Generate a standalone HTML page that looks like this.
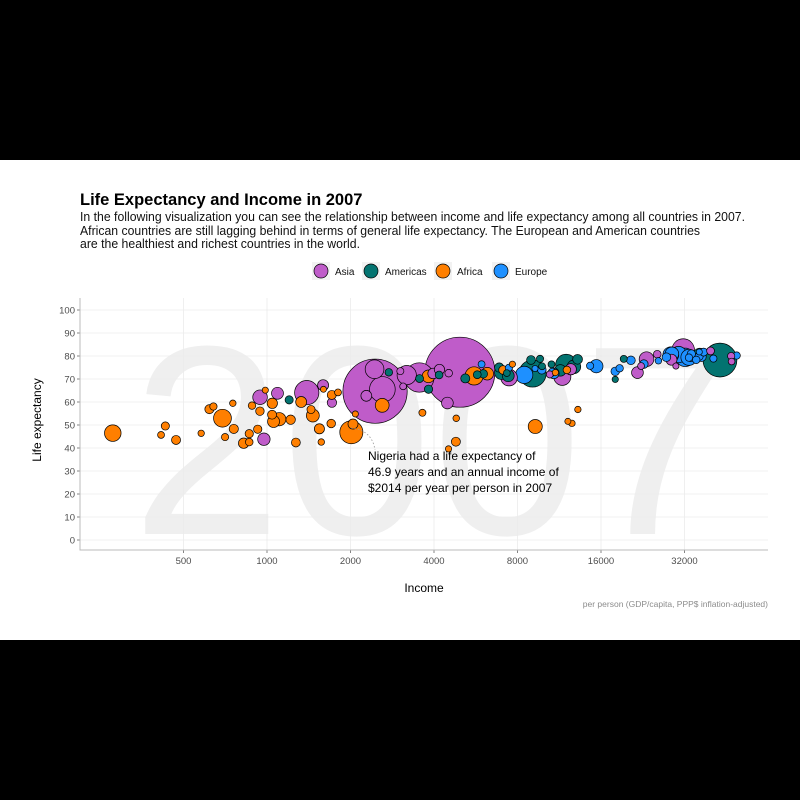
<!DOCTYPE html>
<html><head><meta charset="utf-8"><style>
html,body{margin:0;padding:0;background:#000;}
svg{display:block;font-family:"Liberation Sans",sans-serif;}
</style></head><body>
<svg id="chart" width="800" height="800" viewBox="0 0 800 800" xmlns="http://www.w3.org/2000/svg">
<rect x="0" y="0" width="800" height="800" fill="#000"/>
<rect x="0" y="160" width="800" height="480" fill="#fff"/>
<text x="432" y="534" text-anchor="middle" font-size="270" fill="#efefef">2007</text>
<g id="grid"></g>
<g id="axes"></g>
<g id="bubbles"></g>
<path d="M351,428 Q372,430 375,450" fill="none" stroke="#999" stroke-width="0.8" stroke-dasharray="1.5,2"/>
<g font-size="12" fill="#000">
<text x="368" y="460">Nigeria had a life expectancy of</text>
<text x="368" y="476">46.9 years and an annual income of</text>
<text x="368" y="492">$2014 per year per person in 2007</text>
</g>
<text x="80" y="205" font-size="16.5" font-weight="bold">Life Expectancy and Income in 2007</text>
<g font-size="12.5" fill="#111">
<text x="80" y="221" textLength="665" lengthAdjust="spacingAndGlyphs">In the following visualization you can see the relationship between income and life expectancy among all countries in 2007.</text>
<text x="80" y="235" textLength="620" lengthAdjust="spacingAndGlyphs">African countries are still lagging behind in terms of general life expectancy. The European and American countries</text>
<text x="80" y="248" textLength="280" lengthAdjust="spacingAndGlyphs">are the healthiest and richest countries in the world.</text>
</g>
<g id="legend"></g>
<text x="424" y="592" text-anchor="middle" font-size="12">Income</text>
<text transform="translate(41,420) rotate(-90)" text-anchor="middle" font-size="12">Life expectancy</text>
<text x="768" y="607" text-anchor="end" font-size="8.5" fill="#8c8c8c">per person (GDP/capita, PPP$ inflation-adjusted)</text>
</svg>
<script>
const NS="http://www.w3.org/2000/svg";
const continents=["Asia","Americas","Africa","Europe"];
const continentColors=["#BF5CC9","#037370","#FF7F00","#1E90FF"];
const xTickValues=[500,1000,2000,4000,8000,16000,32000];
const xTickLabels=["500","1000","2000","4000","8000","16000","32000"];
const yTickValues=[0,10,20,30,40,50,60,70,80,90,100];
// [gdpPercap, lifeExp, pop (millions)]
const asia=[[974.6,43.83,31.9],[29796,75.64,0.71],[1391,64.06,150.4],[1714,59.72,14.1],[4959,72.96,1318.7],[39725,82.21,6.98],[2452,64.70,1110.4],[3541,70.65,223.5],[11606,70.96,69.5],[4471,59.55,27.5],[25523,80.75,6.4],[31656,82.60,127.5],[4519,72.54,6.05],[1593,67.30,23.3],[23348,78.62,49.0],[47307,77.59,2.5],[10461,71.99,3.9],[12452,74.24,24.8],[3096,66.80,2.9],[944,62.07,47.8],[1091,63.79,28.9],[22316,75.64,3.2],[2606,65.48,169.3],[3190,71.69,91.1],[21655,72.78,27.6],[47143,79.97,4.55],[3970,72.40,20.4],[4185,74.14,19.3],[28718,78.40,23.2],[7458,70.62,65.1],[2442,74.25,85.3],[3025,73.42,4.0],[2281,62.70,22.2]];
const americas=[[12779,75.32,40.3],[3822,65.55,9.1],[9066,72.39,190.0],[36319,80.65,33.4],[13172,78.55,16.3],[7007,72.89,44.2],[9645,78.78,4.1],[8948,78.27,11.4],[6025,72.24,9.3],[6873,74.99,13.8],[5728,71.88,6.9],[5186,70.26,12.6],[1202,60.92,8.5],[3548,70.20,7.5],[7321,72.57,2.8],[11978,76.20,108.7],[2749,72.90,5.7],[9809,75.54,3.2],[4173,71.75,6.7],[7409,71.42,28.7],[19329,78.75,3.9],[18009,69.82,1.06],[42952,78.24,301.1],[10611,76.38,3.4],[11416,73.75,26.1]];
const africa=[[6223,72.30,33.3],[4797,42.73,12.4],[1441,56.73,8.1],[12570,50.73,1.6],[1217,52.30,14.3],[430,49.58,8.4],[2042,50.43,17.7],[706,44.74,4.4],[1704,50.65,10.2],[986,65.15,0.7],[278,46.46,64.6],[3633,55.32,3.8],[1545,48.33,18.0],[2082,54.79,0.5],[5581,71.34,80.3],[12154,51.58,0.55],[641,58.04,4.9],[691,52.95,76.5],[13206,56.74,1.45],[753,59.45,1.7],[1328,60.02,22.9],[943,56.01,9.9],[579,46.39,1.5],[1463,54.11,35.6],[1569,42.59,2.0],[415,45.68,3.2],[12057,73.95,6.0],[1045,59.44,19.2],[759,48.30,13.3],[1043,54.47,12.0],[1803,64.16,3.3],[10957,72.80,1.25],[3820,71.16,33.8],[824,42.08,20.0],[4811,52.91,2.1],[620,56.87,12.9],[2014,46.86,135.0],[7670,76.44,0.8],[863,46.24,8.9],[1598,65.53,0.2],[1712,63.06,12.3],[863,42.57,6.1],[926,48.16,9.1],[9270,49.34,44.0],[2602,58.56,42.3],[4513,39.61,1.1],[1107,52.52,38.1],[883,58.42,5.7],[7093,73.92,10.3],[1056,51.54,29.2],[1271,42.38,11.7],[470,43.49,12.3]];
const europe=[[5937,76.42,3.6],[36126,79.83,8.2],[33693,79.44,10.4],[7446,74.85,4.6],[10681,73.01,7.3],[14619,75.75,4.5],[22833,76.49,10.2],[35278,78.33,5.5],[33207,79.31,5.2],[30470,80.66,61.1],[32170,79.41,82.4],[27538,79.48,10.7],[18009,73.34,10.0],[36181,81.76,0.3],[40676,78.89,4.1],[28570,80.55,58.1],[9254,74.54,0.68],[36798,79.76,16.6],[49357,80.20,4.6],[15390,75.56,38.5],[20510,78.10,10.6],[10808,72.48,22.3],[9787,74.00,10.2],[18678,74.66,5.4],[25768,77.93,2.0],[28821,80.94,40.4],[33860,80.88,9.0],[37506,81.70,7.6],[8458,71.78,71.2],[33203,79.43,60.8]];

const PL=80,PR=768,PT=298,PB=550;
function xScale(v){return 267+83.5*Math.log2(v/1000);}
function yScale(v){return 540-2.3*v;}
function rScale(p){return Math.sqrt(9+0.9226*p);}

const grid=document.getElementById('grid');
const axes=document.getElementById('axes');
function mk(tag,attrs,parent){const e=document.createElementNS(NS,tag);for(const k in attrs)e.setAttribute(k,attrs[k]);parent.appendChild(e);return e;}

yTickValues.forEach(v=>{
  const y=yScale(v);
  const gl=mk('line',{x1:PL,x2:PR,y1:y,y2:y,stroke:'#ebebeb','stroke-width':0.8},grid);
  
  
  const tk=mk('line',{x1:PL-3,x2:PL,y1:y,y2:y,stroke:'#333','stroke-width':0.6},axes);
  
  
  const t=mk('text',{x:PL-5,y:y+3.5,'text-anchor':'end','font-size':9.5,fill:'#4d4d4d'},axes);
  t.textContent=v;
  
  
});
xTickValues.forEach((v,i)=>{
  const x=xScale(v);
  const gl=mk('line',{x1:x,x2:x,y1:PT,y2:PB,stroke:'#ebebeb','stroke-width':0.8},grid);
  
  
  const tk=mk('line',{x1:x,x2:x,y1:PB,y2:PB+3,stroke:'#333','stroke-width':0.6},axes);
  
  
  const t=mk('text',{x:x,y:PB+14,'text-anchor':'middle','font-size':9.5,fill:'#4d4d4d'},axes);
  t.textContent=xTickLabels[i];
  
  
});
const al=mk('path',{d:`M${PL},${PT} L${PL},${PB} L${PR},${PB}`,fill:'none',stroke:'#bbb','stroke-width':1},axes);



const all=[];
[asia,americas,africa,europe].forEach((arr,ci)=>arr.forEach(d=>all.push({g:d[0],l:d[1],p:d[2],c:ci})));
all.sort((a,b)=>b.p-a.p);
const bub=document.getElementById('bubbles');
all.forEach(d=>{
  const c=mk('circle',{cx:xScale(d.g),cy:yScale(d.l),r:rScale(d.p),fill:continentColors[d.c],stroke:'#000','stroke-width':0.7},bub);
  
  
});

const leg=document.getElementById('legend');
const legX=[321,371,443,501];
continents.forEach((name,i)=>{
  const g=mk('g',{},leg);
  
  
  mk('rect',{x:legX[i]-9,y:262,width:18,height:18,fill:'#f2f2f2'},g);
  mk('circle',{cx:legX[i],cy:271,r:7,fill:continentColors[i],stroke:'#000','stroke-width':0.7},g);
  const t=mk('text',{x:legX[i]+14,y:275,'font-size':10,fill:'#111'},g);
  t.textContent=name;
});
</script>
</body></html>
